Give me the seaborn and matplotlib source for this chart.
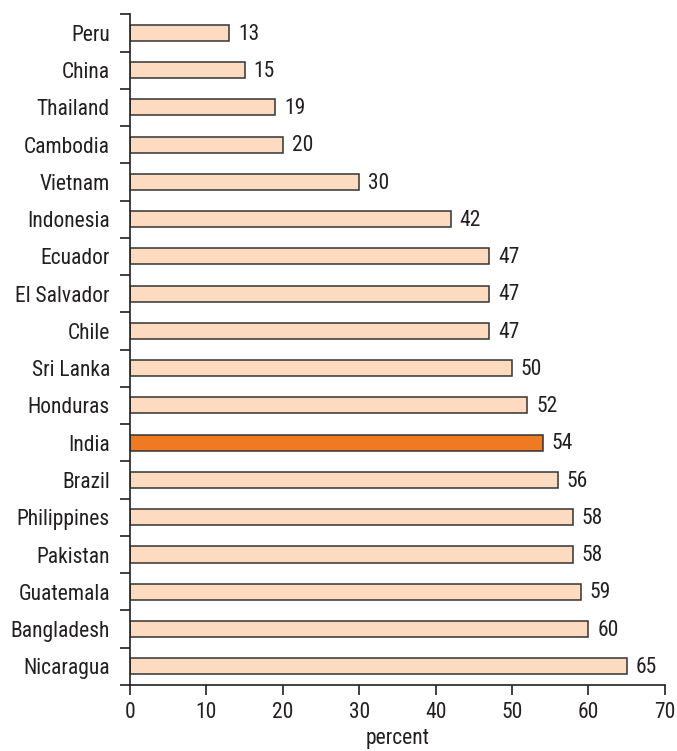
import matplotlib.pyplot as plt
import seaborn as sns
import pandas as pd
import numpy as np
from matplotlib import font_manager

countries = ['Peru', 'China', 'Thailand', 'Cambodia', 'Vietnam', 'Indonesia',
             'Ecuador', 'El Salvador', 'Chile', 'Sri Lanka', 'Honduras', 'India',
             'Brazil', 'Philippines', 'Pakistan', 'Guatemala', 'Bangladesh',
             'Nicaragua']
values = [13, 15, 19, 20, 30, 42, 47, 47, 47, 50, 52, 54, 56, 58, 58, 59, 60, 65]
highlight = 'India'

sns.set_style('ticks')
installed = {f.name for f in font_manager.fontManager.ttflist}
narrow = [n for n in ['Liberation Sans Narrow', 'Roboto Condensed', 'Liberation Sans']
          if n in installed]
plt.rcParams['font.family'] = narrow + ['DejaVu Sans']

df = pd.DataFrame({'country': countries, 'percent': values})
df['group'] = np.where(df['country'] == highlight, 'hi', 'lo')

fig = plt.figure(figsize=(6.77, 7.51), dpi=100)
ax = fig.add_axes([0.192, 0.088, 0.790, 0.893])

sns.barplot(
    data=df, x='percent', y='country', hue='group',
    palette={'lo': '#fddbc0', 'hi': '#f07a22'}, saturation=1,
    dodge=False, legend=False, width=0.43,
    edgecolor='#333333', linewidth=1.1, ax=ax
)

for i, v in enumerate(values):
    ax.text(v + 1.15, i + 0.03, str(v), va='center', ha='left', fontsize=15.5,
            color='#231f20')

ax.set_xlim(0, 70)
ax.set_ylim(len(countries) - 0.5, -0.5)
ax.set_xticks(range(0, 71, 10))
ax.set_yticks(np.arange(-0.5, len(countries), 1.0), minor=True)
ax.tick_params(axis='y', which='major', length=0, labelsize=15.5, pad=14.4,
               labelcolor='#231f20')
ax.tick_params(axis='y', which='minor', length=7, width=1.2, color='#231f20')
ax.tick_params(axis='x', length=7, width=1.2, labelsize=15.5, pad=5,
               color='#231f20', labelcolor='#231f20')
ax.set_xlabel('percent', fontsize=15.5, labelpad=4, color='#231f20')
ax.set_ylabel('')
sns.despine(ax=ax, top=True, right=True)
for s in ['left', 'bottom']:
    ax.spines[s].set_linewidth(1.2)
    ax.spines[s].set_color('#231f20')

fig.savefig('out.png', dpi=100)
